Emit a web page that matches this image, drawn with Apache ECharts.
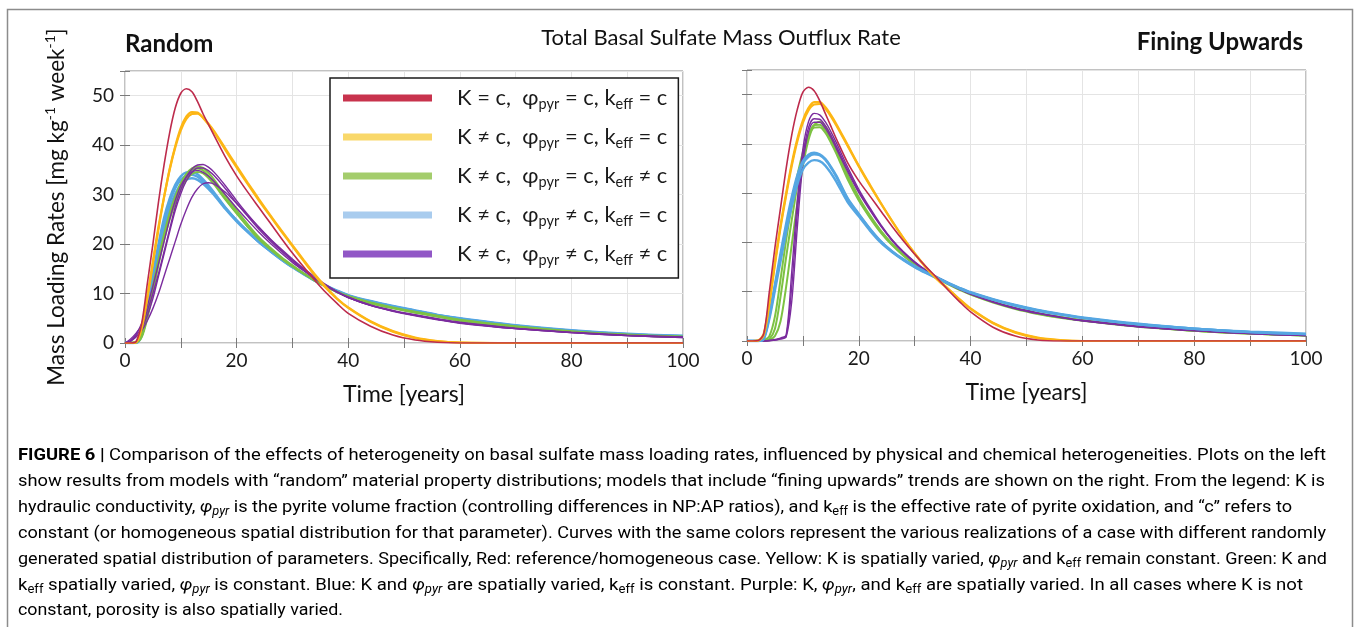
<!DOCTYPE html>
<html><head><meta charset="utf-8">
<script src="https://cdn.jsdelivr.net/npm/echarts@6/dist/echarts.min.js"></script>
<style>html,body{margin:0;padding:0;background:#fff}#c{width:1360px;height:627px}</style>
</head><body><div id="c"></div>
<script>
// ---- time points (years) ----
const T = [0,1,2,3,4,5,6,7,8,9,10,11,12,13,14,15,16,18,20,22,24,26,28,30,32,34,36,38,40,44,48,52,56,60,70,80,90,100];

// ---- "Random" panel ----
const randRed     = [0,0,0.3,4,12,20,28.5,36,42.5,47.5,50.5,51.4,50.8,48.8,46.3,44.1,41.9,37.6,33.8,30.5,27.4,24.3,21.2,18.2,15.4,12.7,10.2,8,6,3.4,1.6,0.6,0.15,0,0,0,0,0];
const randYellow1 = [0,0,0.2,3.5,9.5,16.5,23.5,29.5,35,39.5,43,45.3,46.3,46.4,45.6,44.3,42.8,39.3,35.8,32.4,29.1,25.9,22.8,19.8,16.8,13.9,11.3,9,7.2,4.4,2.4,1.1,0.4,0.1,0,0,0,0];
const randYellow2 = [0,0,0.1,3,9,16,23,29.5,35.2,39.8,43.5,45.8,46.7,46.6,45.5,44.1,42.6,39,35.5,32.1,28.8,25.7,22.6,19.6,16.6,13.7,11.1,8.9,7.1,4.3,2.3,1.0,0.35,0.1,0,0,0,0];
const randGreen1  = [0,0,0.2,1.5,5.5,11,16.5,21.5,25.8,29,31.8,33.7,34.9,35.3,34.9,33.8,32.4,29.2,26.3,23.5,21,19,17.1,15.5,14,12.6,11.4,10.3,9.4,8.1,7.1,6.2,5.4,4.6,3.3,2.3,1.6,1.2];
const randGreen2  = [0,0,0.1,1.2,5,10.3,15.8,20.8,25,28.3,31,33,34.2,34.6,34.3,33.3,32,29,26.2,23.5,21,19,17.2,15.6,14.1,12.7,11.5,10.4,9.5,8.2,7.2,6.3,5.5,4.7,3.4,2.4,1.7,1.3];
const randGreen3  = [0,0,0.2,1.8,6,11.5,17,22,26.3,29.6,32.3,34.2,35.3,35.7,35.4,34.4,33,29.8,26.8,24,21.4,19.3,17.4,15.7,14.1,12.7,11.4,10.3,9.3,8,7,6.1,5.3,4.5,3.2,2.3,1.6,1.2];
const randBlue1   = [0,0,0.1,2,7,13,19,24.5,28.5,31.3,33,33.8,34,33.6,32.7,31.5,30.2,27.3,24.8,22.6,20.5,18.7,17,15.4,14,12.6,11.5,10.5,9.6,8.4,7.4,6.5,5.6,4.9,3.5,2.5,1.8,1.4];
const randBlue2   = [0,0,0,1.5,6,12,18,23.2,27.3,30.2,32,33,33.3,33,32.2,31.1,29.9,27.1,24.6,22.4,20.4,18.6,16.9,15.4,14,12.7,11.6,10.6,9.7,8.5,7.5,6.6,5.7,5,3.6,2.6,1.9,1.5];
const randBlue3   = [0,0,0.2,2.5,8,14,20,25.3,29.2,32,33.7,34.5,34.6,34.1,33.1,31.8,30.4,27.4,24.8,22.5,20.4,18.6,16.9,15.3,13.9,12.6,11.5,10.5,9.6,8.4,7.4,6.5,5.6,4.9,3.5,2.5,1.8,1.4];
const randPurple1 = [0,0.8,2,3.5,6.5,10,14,18.5,23,27.5,31,33.6,35.2,36,36.1,35.5,34.5,31.8,28.8,26,23.4,21,18.8,16.8,14.9,13.1,11.6,10.3,9.2,7.7,6.6,5.7,4.9,4.2,3,2.2,1.6,1.2];
const randPurple2 = [0,0.5,1.5,3,5.5,9,13.5,18,22.5,26.8,30.2,32.8,34.5,35.4,35.4,34.8,33.8,31.2,28.3,25.6,23,20.7,18.6,16.6,14.8,13.1,11.6,10.3,9.2,7.6,6.5,5.6,4.8,4.1,2.9,2.1,1.5,1.2];
const randPurple3 = [0,0.3,1.8,4,7.5,11.5,16,20.5,25,28.8,31.8,33.6,34.6,34.9,34.5,33.7,32.6,30,27.3,24.8,22.4,20.2,18.2,16.3,14.6,13,11.6,10.3,9.2,7.6,6.5,5.6,4.8,4.1,2.9,2.1,1.5,1.1];
const randPurple4 = [0,0.4,1.2,2.5,4.5,7,10,13.5,17,20.5,24,27,29.5,31.2,32.2,32.4,32.1,30.5,28.2,25.8,23.4,21.1,19,17,15.1,13.4,11.8,10.4,9.3,7.6,6.4,5.5,4.7,4,2.9,2.1,1.5,1.1];

// ---- "Fining Upwards" panel ----
const fineRed     = [0,0,0.1,1.5,10,19,27,35,41.8,47,50.5,51.5,50.8,48.8,46.2,43.6,41,36.2,32.5,29.4,26.3,23.2,20.3,17.6,15.1,12.8,10.3,8,5.9,2.8,1,0.2,0,0,0,0,0,0];
const fineYellow1 = [0,0,0.1,1.5,8,16,23.5,30,36,41,44.8,47.3,48.5,48.5,47.5,45.9,44,39.8,35.6,31.7,27.9,24.3,20.9,17.8,15,12.6,10.6,8.5,6.6,3.7,1.8,0.7,0.2,0,0,0,0,0];
const fineYellow2 = [0,0,0.1,1.2,7.5,15.5,23,29.5,35.5,40.5,44.3,46.8,48,48.1,47.2,45.6,43.7,39.6,35.4,31.5,27.8,24.2,20.8,17.7,14.9,12.5,10.5,8.4,6.5,3.6,1.7,0.6,0.15,0,0,0,0,0];
const fineGreen1  = [0,0,0,0.1,0.4,2.5,9,17,24.5,31.5,37.5,41.8,43.8,43.9,42.8,40.8,38.5,33.2,28.8,25.2,22.1,19.5,17.4,15.6,14.1,12.8,11.6,10.5,9.5,7.9,6.6,5.6,4.8,4.2,3,2.1,1.5,1.1];
const fineGreen2  = [0,0,0,0,0.2,1,4,11,19.5,28,35.5,40.8,43.8,44.5,43.6,41.6,39.2,33.8,29.2,25.5,22.3,19.7,17.5,15.7,14.2,12.9,11.7,10.6,9.6,8,6.7,5.7,4.9,4.2,3,2.1,1.5,1.1];
const fineGreen3  = [0,0,0,0.2,1,5,12.5,20.5,27.5,33.5,38.3,41.7,43.3,43.4,42.3,40.3,38,32.8,28.5,25,21.9,19.4,17.3,15.5,14,12.7,11.5,10.4,9.4,7.8,6.5,5.5,4.7,4.1,2.9,2.1,1.5,1.1];
const fineBlue1   = [0,0,0,0.5,5,11,17,23,28.5,33,36,37.4,37.9,37.7,36.8,35.2,33.3,28.8,25.7,22.7,20.1,18.1,16.5,15.1,13.9,12.8,11.7,10.7,9.8,8.4,7.2,6.2,5.4,4.7,3.4,2.5,1.8,1.4];
const fineBlue2   = [0,0,0,0.4,4.5,10.3,16.2,22,27.3,31.8,34.8,36.2,36.7,36.5,35.6,34.1,32.3,28.2,25.3,22.4,19.9,18,16.4,15,13.8,12.7,11.7,10.7,9.8,8.4,7.2,6.2,5.4,4.7,3.4,2.5,1.8,1.4];
const fineBlue3   = [0,0,0,0.6,5.5,11.5,17.8,23.8,29.2,33.6,36.5,37.8,38.2,37.9,37,35.4,33.5,29,25.8,22.8,20.2,18.2,16.6,15.2,14,12.9,11.8,10.8,9.9,8.5,7.3,6.3,5.5,4.8,3.5,2.5,1.9,1.5];
const finePurple1 = [0,0,0,0,0.1,0.3,0.6,1.2,14,28.5,39,44.5,46.2,45.9,44.5,42.5,40.2,35.3,30.8,27,23.5,20.5,18.1,16.1,14.4,13,11.8,10.7,9.6,8,6.7,5.7,4.9,4.2,3,2.1,1.5,1.1];
const finePurple2 = [0,0,0,0,0.1,0.2,0.5,1,11,26,37.5,43.3,45.1,45,43.7,41.8,39.5,34.8,30.4,26.7,23.3,20.4,18,16,14.3,12.9,11.7,10.6,9.5,7.9,6.6,5.6,4.8,4.1,2.9,2.1,1.5,1.1];
const finePurple3 = [0,0,0,0,0,0.2,0.4,0.8,8,23,36,42.4,44.4,44.4,43.2,41.3,39,34.4,30.1,26.5,23.2,20.3,17.9,15.9,14.2,12.8,11.6,10.5,9.5,7.9,6.6,5.6,4.8,4.1,2.9,2.1,1.5,1.1];

// ---- tick labels & legend ----
const xTickLabels = [0,20,40,60,80,100];
const yTickLabels = [0,10,20,30,40,50];
const legendNames = ['K = c, φpyr = c, keff = c','K ≠ c, φpyr = c, keff = c','K ≠ c, φpyr = c, keff ≠ c','K ≠ c, φpyr ≠ c, keff = c','K ≠ c, φpyr ≠ c, keff ≠ c'];
const legendRich = [
  '{t|K = c,  φ}{s|pyr}{t| = c, k}{s|eff}{t| = c}',
  '{t|K ≠ c,  φ}{s|pyr}{t| = c, k}{s|eff}{t| = c}',
  '{t|K ≠ c,  φ}{s|pyr}{t| = c, k}{s|eff}{t| ≠ c}',
  '{t|K ≠ c,  φ}{s|pyr}{t| ≠ c, k}{s|eff}{t| = c}',
  '{t|K ≠ c,  φ}{s|pyr}{t| ≠ c, k}{s|eff}{t| ≠ c}'
];
const legendColors = ['#C8334D','#F9D86A','#A4CD6C','#A9CCEE','#9157C6'];

const STYLE = {
  red:{c:'#BD2B4C', w:1.6}, yellow:{c:'#FDB614', w:2.2}, green:{c:'#7DC243', w:2},
  blue:{c:'#55A6E2', w:2.4}, purple:{c:'#7B2C9E', w:1.4}
};
const leftCurves = [['blue',randBlue1],['blue',randBlue2],['blue',randBlue3],['green',randGreen1],['green',randGreen2],['green',randGreen3],
  ['purple',randPurple1],['purple',randPurple2],['purple',randPurple3],['purple',randPurple4],['yellow',randYellow1],['yellow',randYellow2],['red',randRed]];
const rightCurves = [['green',fineGreen1],['green',fineGreen2],['green',fineGreen3],['purple',finePurple1],['purple',finePurple2],['purple',finePurple3],
  ['blue',fineBlue1],['blue',fineBlue2],['blue',fineBlue3],['yellow',fineYellow1],['yellow',fineYellow2],['red',fineRed]];

function mk(list, ax){
  return list.map(([k,arr]) => ({
    type:'line', xAxisIndex:ax, yAxisIndex:ax, silent:true, symbol:'none', smooth:0.3,
    data: T.map((t,i)=>[t,arr[i]]), color: STYLE[k].c,
    lineStyle:{color:STYLE[k].c, width:STYLE[k].w}
  }));
}
const series = [...mk(leftCurves,0), ...mk(rightCurves,2),
  ...legendNames.map((n,i)=>({type:'line', name:n, data:[], color:legendColors[i], xAxisIndex:0, yAxisIndex:0}))];

const FONT = 'Lato';
const AXC = '#7a7a7a';
function xAx(gi, top, name){
  return {type:'value', gridIndex:gi, min:0, max:100, interval:10, position: top?'top':'bottom',
    name: top?'':name, nameLocation:'middle', nameGap:40,
    nameTextStyle:{fontFamily:FONT, fontSize:23, color:'#111'},
    axisLine:{show:false}, axisTick:{show:true, inside:true, length:5, lineStyle:{color:AXC}},
    axisLabel:{show:!top, margin:8, fontFamily:FONT, fontSize:19, color:'#1a1a1a',
      formatter:v=> xTickLabels.includes(v)? String(v):''},
    splitLine:{show:!top, lineStyle:{color:'#e4e4e4', width:1}}};
}
function yAx(gi, right, labels){
  return {type:'value', gridIndex:gi, min:0, max:55, interval:10, position: right?'right':'left',
    axisLine:{show:false}, axisTick:{show:true, inside:true, length:5, lineStyle:{color:AXC}},
    axisLabel:{show:(!right && labels), margin:11, fontFamily:FONT, fontSize:19, color:'#1a1a1a',
      formatter:v=> yTickLabels.includes(v)? String(v):''},
    splitLine:{show:!right, lineStyle:{color:'#e4e4e4', width:1}}};
}

// caption
const capLines = [
  [['b','FIGURE 6 | '],['n','Comparison of the effects of heterogeneity on basal sulfate mass loading rates, influenced by physical and chemical heterogeneities. Plots on the left']],
  [['n','show results from models with “random” material property distributions; models that include “fining upwards” trends are shown on the right. From the legend: K is']],
  [['n','hydraulic conductivity, '],['i','φ'],['is','pyr'],['n',' is the pyrite volume fraction (controlling differences in NP:AP ratios), and k'],['s','eff'],['n',' is the effective rate of pyrite oxidation, and “c” refers to']],
  [['n','constant (or homogeneous spatial distribution for that parameter). Curves with the same colors represent the various realizations of a case with different randomly']],
  [['n','generated spatial distribution of parameters. Specifically, Red: reference/homogeneous case. Yellow: K is spatially varied, '],['i','φ'],['is','pyr'],['n',' and k'],['s','eff'],['n',' remain constant. Green: K and']],
  [['n','k'],['s','eff'],['n',' spatially varied, '],['i','φ'],['is','pyr'],['n',' is constant. Blue: K and '],['i','φ'],['is','pyr'],['n',' are spatially varied, k'],['s','eff'],['n',' is constant. Purple: K, '],['i','φ'],['is','pyr'],['n',', and k'],['s','eff'],['n',' are spatially varied. In all cases where K is not']],
  [['n','constant, porosity is also spatially varied.']]
];
const capRight = [1326,1325,1292,1326,1327,1303,343];
const capY = [456,482,508,534,560,586,611];
const CF = 'Roboto';
const capFonts = {n:'normal 17px '+CF, b:'bold 17px '+CF, i:'italic 17px '+CF, s:'normal 12px '+CF, is:'italic 12px '+CF};
const ctx = document.createElement('canvas').getContext('2d');
function lineW(segs){ let w=0; segs.forEach(([k,t])=>{ctx.font=capFonts[k]; w+=ctx.measureText(t).width;}); return w; }
const CC = '#3a3a3a';
const capRich = {
  n:{fontFamily:CF, fontSize:17, color:CC, lineHeight:20},
  b:{fontFamily:CF, fontSize:17, fontWeight:'bold', color:CC, lineHeight:20},
  i:{fontFamily:CF, fontSize:17, fontStyle:'italic', color:CC, lineHeight:20},
  s:{fontFamily:CF, fontSize:12, color:CC, lineHeight:12, verticalAlign:'bottom'},
  is:{fontFamily:CF, fontSize:12, fontStyle:'italic', color:CC, lineHeight:12, verticalAlign:'bottom'}
};
const graphics = [
  {type:'rect', silent:true, shape:{x:7.5,y:9.5,width:1345,height:700}, style:{fill:'none', stroke:'#8c8c8c', lineWidth:1.5}},
  {type:'text', silent:true, x:125, y:44, style:{text:'Random', fontFamily:FONT, fontWeight:'bold', fontSize:24, fill:'#111', align:'left', verticalAlign:'middle'}},
  {type:'text', silent:true, x:1303, y:42, style:{text:'Fining Upwards', fontFamily:FONT, fontWeight:'bold', fontSize:24, fill:'#111', align:'right', verticalAlign:'middle'}},
  {type:'text', silent:true, x:721, y:38, style:{text:'Total Basal Sulfate Mass Outflux Rate', fontFamily:FONT, fontSize:22, fill:'#111', align:'center', verticalAlign:'middle'}},
  {type:'text', silent:true, x:57, y:207, rotation:Math.PI/2, style:{
    text:'{t|Mass Loading Rates [mg kg}{u|-1}{t| week}{u|-1}{t|]}', align:'center', verticalAlign:'middle',
    rich:{t:{fontFamily:FONT, fontSize:22.5, fill:'#111', lineHeight:28}, u:{fontFamily:FONT, fontSize:14, fill:'#111', lineHeight:14, verticalAlign:'top'}}}}
];
capLines.forEach((segs,i)=>{
  const sc = (capRight[i]-18) / lineW(segs);
  graphics.push({type:'text', silent:true, x:18, y:capY[i], scaleX:sc, style:{
    text: segs.map(([k,t])=>'{'+k+'|'+t+'}').join(''), align:'left', verticalAlign:'middle', rich:capRich}});
});

const chart = echarts.init(document.getElementById('c'));
chart.setOption({
  animation:false,
  grid:[
    {left:125, top:71, width:558, height:272, show:true, borderColor:'#858585', borderWidth:1, containLabel:false},
    {left:747, top:70, width:559, height:271, show:true, borderColor:'#858585', borderWidth:1, containLabel:false}
  ],
  xAxis:[xAx(0,false,'Time [years]'), xAx(0,true), xAx(1,false,'Time [years]'), xAx(1,true)],
  yAxis:[yAx(0,false,true), yAx(0,true,false), yAx(1,false,false), yAx(1,true,false)],
  legend:{orient:'vertical', left:330, top:78, padding:[9,11,10,13], itemGap:14, itemWidth:89, itemHeight:7,
    icon:'rect', borderColor:'#1a1a1a', borderWidth:1.5, backgroundColor:'#fff', selectedMode:false,
    data: legendNames.map((n,i)=>({name:n, itemStyle:{color:legendColors[i]}})),
    formatter: n => legendRich[legendNames.indexOf(n)],
    textStyle:{padding:[0,0,0,20], rich:{
      t:{fontFamily:FONT, fontSize:22, color:'#1a1a1a', lineHeight:28},
      s:{fontFamily:FONT, fontSize:14.5, color:'#1a1a1a', lineHeight:16, verticalAlign:'bottom'}}}},
  graphic: graphics,
  series: series
});
</script>
</body></html>
